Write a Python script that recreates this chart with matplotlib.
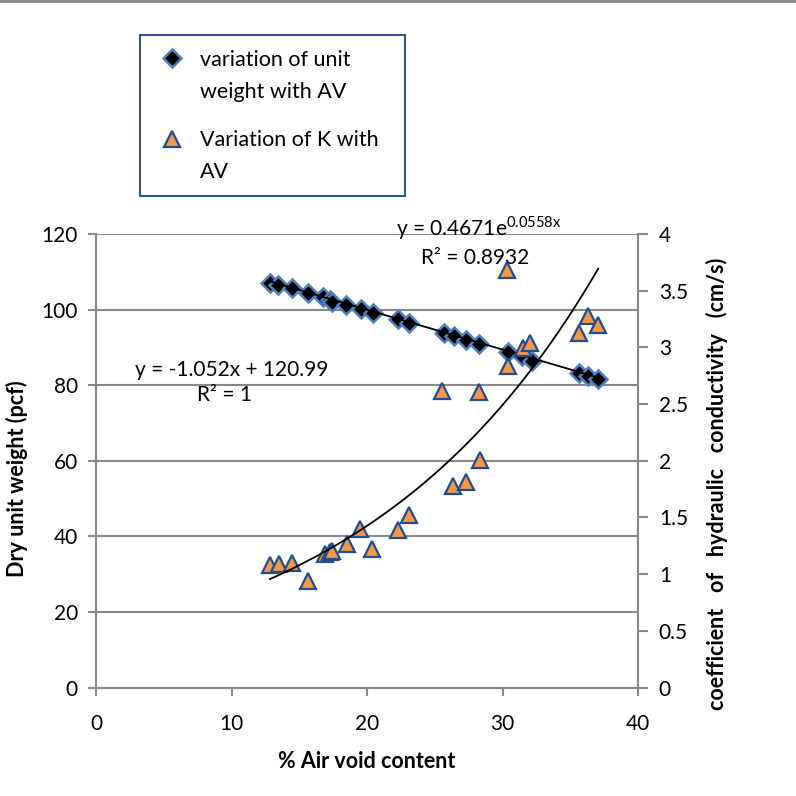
import matplotlib
matplotlib.use("Agg")
import matplotlib.pyplot as plt
import numpy as np
from matplotlib.lines import Line2D
from matplotlib.patches import Rectangle

plt.rcParams['font.family'] = ['Lato', 'DejaVu Sans']

# Unit weight series (diamonds)
av_uw = [12.84, 13.45, 14.44, 15.66, 16.76, 17.25, 17.45, 18.47, 19.57, 20.43, 22.31,
         23.07, 25.69, 26.42, 27.28, 28.26, 30.41, 31.43, 32.17, 35.67, 36.33, 37.06]
unit_weight = [107.1, 106.5, 105.7, 104.5, 103.3, 102.6, 102.1, 101.2, 100.1, 99.0, 97.5,
               96.4, 93.8, 92.9, 92.0, 90.9, 88.9, 87.6, 86.3, 83.2, 82.3, 81.7]

# Hydraulic conductivity series (triangles)
av_k = [12.84, 13.50, 14.44, 15.66, 16.88, 17.25, 17.45, 18.52, 19.52, 20.38, 22.31, 23.07,
        25.52, 26.37, 27.28, 28.26, 28.33, 30.33, 30.41, 31.49, 32.05, 35.65, 36.28, 37.06]
k_vals = [1.077, 1.093, 1.099, 0.937, 1.181, 1.192, 1.201, 1.266, 1.398, 1.222, 1.386, 1.518,
          2.619, 1.780, 1.809, 2.602, 2.003, 3.683, 2.837, 2.993, 3.037, 3.130, 3.278, 3.198]

# Trendline coefficients (from chart labels)
lin_slope, lin_icpt = -1.052, 120.99
exp_a, exp_b = 0.4671, 0.0558

legend_labels = ['variation of unit\nweight with AV', 'Variation of K with\nAV']

x_ticks = [0, 10, 20, 30, 40]
y_left_ticks = [0, 20, 40, 60, 80, 100, 120]
y_right_ticks = [0, 0.5, 1, 1.5, 2, 2.5, 3, 3.5, 4]

GRAY = '#888888'
W = H = 796

def fx(px):
    return px / W

def fy(py):
    return 1 - py / H

fig = plt.figure(figsize=(7.96, 7.96), dpi=100)
ax = fig.add_axes([fx(96), fy(687.5), (638-96)/W, (687.5-234)/H])
ax2 = ax.twinx()

ax.set_xlim(0, 40)
ax.set_ylim(0, 120)
ax2.set_ylim(0, 4)
ax.set_xticks(x_ticks)
ax.set_yticks(y_left_ticks)
ax2.set_yticks(y_right_ticks)
ax2.set_yticklabels([('%g' % v) for v in y_right_ticks])

for a in (ax, ax2):
    for s in a.spines.values():
        s.set_color(GRAY)
        s.set_linewidth(1.5)
    a.spines['top'].set_visible(False)
ax.spines['right'].set_visible(False)
ax2.spines['left'].set_visible(False)
ax2.spines['bottom'].set_visible(False)

ax.yaxis.grid(True, color=GRAY, linewidth=1.5)
ax.set_axisbelow(True)

ax.tick_params(axis='y', direction='out', length=6, width=1.5, color=GRAY, labelsize=15, pad=7)
ax.tick_params(axis='x', direction='out', length=6, width=1.5, color=GRAY, labelsize=15, pad=13)
ax2.tick_params(axis='y', direction='out', length=7, width=1.5, color=GRAY, labelsize=15, pad=8)

diamond_style = dict(linestyle='none', marker='D', markersize=9, markerfacecolor='black',
                     markeredgecolor='#4F81BD', markeredgewidth=1.8)
tri_style = dict(linestyle='none', marker='^', markersize=12, markerfacecolor='#F79646',
                 markeredgecolor='#1F4E8C', markeredgewidth=1.6)

# linear trendline
xl = np.linspace(min(av_uw), max(av_uw), 50)
ax.plot(xl, lin_slope * xl + lin_icpt, color='black', linewidth=1.3, zorder=3)
ax.plot(av_uw, unit_weight, zorder=2, **diamond_style)

# exponential trendline
xe = np.linspace(min(av_k), max(av_k), 200)
ax2.plot(av_k, k_vals, zorder=2, **tri_style)
ax2.plot(xe, exp_a * np.exp(exp_b * xe), color='black', linewidth=1.3, zorder=3)

# equations
ax.text(28.2, 121.6, 'y = 0.4671e$^{\\mathregular{0.0558x}}$', fontsize=15, ha='center', va='center', zorder=1)
ax.text(27.95, 113.7, 'R² = 0.8932', fontsize=15, ha='center', va='center', zorder=1)
ax.text(10.0, 84.1, 'y = -1.052x + 120.99', fontsize=15, ha='center', va='center')
ax.text(9.5, 77.5, 'R² = 1', fontsize=15, ha='center', va='center')

ax.set_xlabel('% Air void content', fontsize=15.5, fontweight='bold', labelpad=12)
ax.set_ylabel('Dry unit weight (pcf)', fontsize=15.5, fontweight='bold')
ax.yaxis.set_label_coords(-0.126, 0.46)
ax2.set_ylabel('coefficient   of   hydraulic   conductivity   (cm/s)', fontsize=15.5,
               fontweight='bold')
ax2.yaxis.set_label_coords(1.1255, 0.449)

# manual legend box
fig.add_artist(Rectangle((fx(140), fy(196)), (405-140)/W, (196-35)/H, transform=fig.transFigure,
                         facecolor='white', edgecolor='#2F5597', linewidth=1.5))
fig.add_artist(Line2D([fx(172)], [fy(57.5)], transform=fig.transFigure, **diamond_style))
fig.add_artist(Line2D([fx(172)], [fy(139)], transform=fig.transFigure, **tri_style))
fig.text(fx(200), fy(50), legend_labels[0], fontsize=15.5, ha='left', va='top', linespacing=1.74)
fig.text(fx(200), fy(130), legend_labels[1], fontsize=15.5, ha='left', va='top', linespacing=1.74)

# top border line
fig.add_artist(Line2D([0, 1], [fy(1), fy(1)], color=GRAY, linewidth=2, transform=fig.transFigure))

fig.savefig('out.png', dpi=100)
